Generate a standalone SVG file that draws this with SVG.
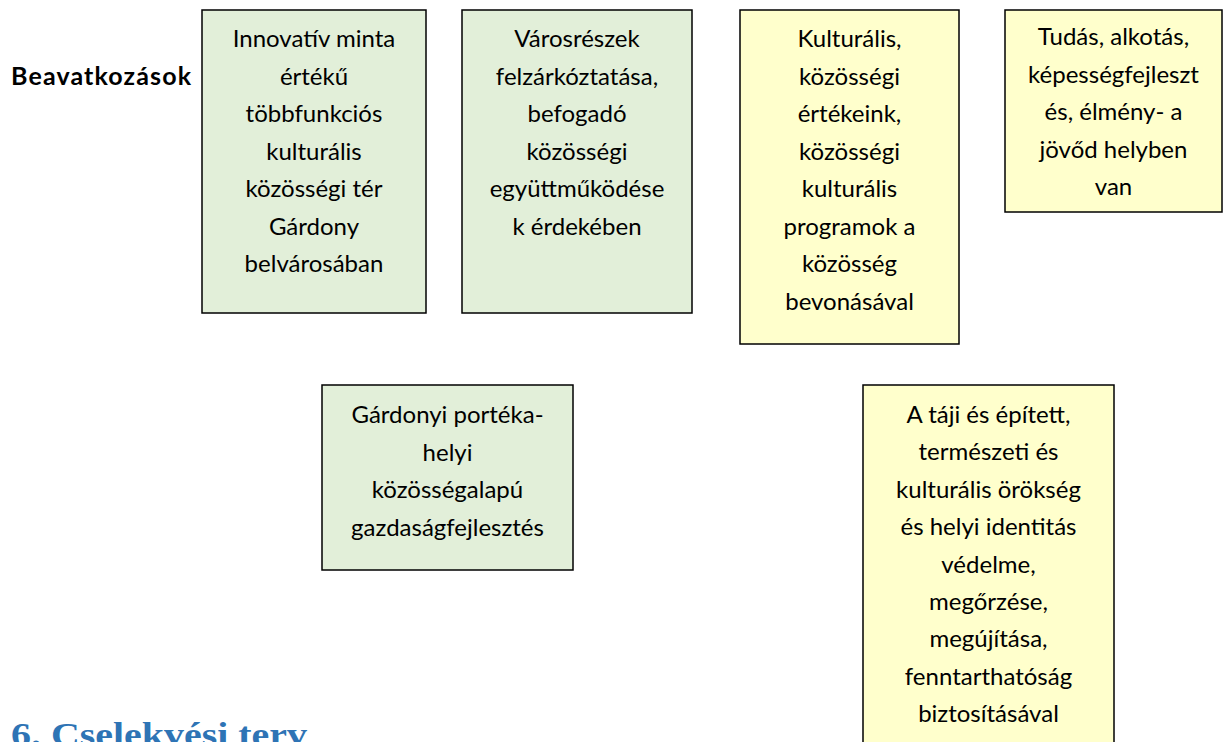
<svg xmlns="http://www.w3.org/2000/svg" width="1224" height="742" viewBox="0 0 1224 742">
<style>
.box{stroke:#000;stroke-width:1.5}
.g{fill:#E2EFD9}
.y{fill:#FFFFCC}
.t{font-family:Lato,"Noto Sans",sans-serif;font-size:24px;fill:#000;text-anchor:middle}
.lbl{font-family:Lato,"Noto Sans",sans-serif;font-size:25px;font-weight:bold;fill:#000}
.h{font-family:"Liberation Serif",serif;font-size:33px;font-weight:bold;fill:#2E74B5}
</style>
<rect width="1224" height="742" fill="#fff"/>
<text class="lbl" x="11" y="85" textLength="180" lengthAdjust="spacing">Beavatkozások</text>
<g id="n1">
<rect class="box g" x="202" y="10" width="224" height="303"/>
<text class="t" x="314" y="47">Innovatív minta</text>
<text class="t" x="314" y="84.5">értékű</text>
<text class="t" x="314" y="122">többfunkciós</text>
<text class="t" x="314" y="159.5">kulturális</text>
<text class="t" x="314" y="197">közösségi tér</text>
<text class="t" x="314" y="234.5">Gárdony</text>
<text class="t" x="314" y="272">belvárosában</text>
</g>
<g id="n2">
<rect class="box g" x="462" y="10" width="230" height="303"/>
<text class="t" x="577" y="47">Városrészek</text>
<text class="t" x="577" y="84.5">felzárkóztatása,</text>
<text class="t" x="577" y="122">befogadó</text>
<text class="t" x="577" y="159.5">közösségi</text>
<text class="t" x="577" y="197">együttműködése</text>
<text class="t" x="577" y="234.5">k érdekében</text>
</g>
<g id="n3">
<rect class="box y" x="740" y="10" width="219" height="334"/>
<text class="t" x="849.5" y="47">Kulturális,</text>
<text class="t" x="849.5" y="84.5">közösségi</text>
<text class="t" x="849.5" y="122">értékeink,</text>
<text class="t" x="849.5" y="159.5">közösségi</text>
<text class="t" x="849.5" y="197">kulturális</text>
<text class="t" x="849.5" y="234.5">programok a</text>
<text class="t" x="849.5" y="272">közösség</text>
<text class="t" x="849.5" y="309.5">bevonásával</text>
</g>
<g id="n4">
<rect class="box y" x="1005" y="10" width="217" height="202"/>
<text class="t" x="1113.5" y="45">Tudás, alkotás,</text>
<text class="t" x="1113.5" y="82.5">képességfejleszt</text>
<text class="t" x="1113.5" y="120">és, élmény- a</text>
<text class="t" x="1113.5" y="157.5">jövőd helyben</text>
<text class="t" x="1113.5" y="195">van</text>
</g>
<g id="n5">
<rect class="box g" x="322" y="385" width="251" height="185"/>
<text class="t" x="447.5" y="423">Gárdonyi portéka-</text>
<text class="t" x="447.5" y="460.5">helyi</text>
<text class="t" x="447.5" y="498">közösségalapú</text>
<text class="t" x="447.5" y="535.5">gazdaságfejlesztés</text>
</g>
<g id="n6">
<rect class="box y" x="863" y="385" width="251" height="370"/>
<text class="t" x="988.5" y="423">A táji és épített,</text>
<text class="t" x="988.5" y="460.4">természeti és</text>
<text class="t" x="988.5" y="497.8">kulturális örökség</text>
<text class="t" x="988.5" y="535.2">és helyi identitás</text>
<text class="t" x="988.5" y="572.6">védelme,</text>
<text class="t" x="988.5" y="610">megőrzése,</text>
<text class="t" x="988.5" y="647.4">megújítása,</text>
<text class="t" x="988.5" y="684.8">fenntarthatóság</text>
<text class="t" x="988.5" y="722.2">biztosításával</text>
</g>
<g id="connectors"></g>
<text class="h" x="11" y="746" textLength="296" lengthAdjust="spacingAndGlyphs">6. Cselekvési terv</text>
</svg>
